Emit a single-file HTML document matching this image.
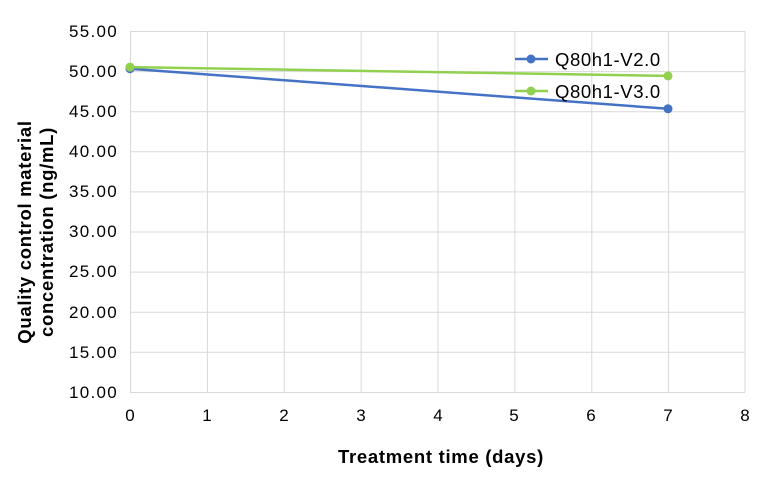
<!DOCTYPE html>
<html><head><meta charset="utf-8"><style>body{margin:0;background:#fff}</style></head><body>
<svg width="776" height="473" xmlns="http://www.w3.org/2000/svg" font-family="Liberation Sans, sans-serif">
<rect width="776" height="473" fill="#fff"/>
<g stroke="#d9d9d9" stroke-width="1">
<line x1="130" y1="31.5" x2="745" y2="31.5"/><line x1="130" y1="71.6" x2="745" y2="71.6"/>
<line x1="130" y1="111.7" x2="745" y2="111.7"/><line x1="130" y1="151.8" x2="745" y2="151.8"/>
<line x1="130" y1="191.9" x2="745" y2="191.9"/><line x1="130" y1="232" x2="745" y2="232"/>
<line x1="130" y1="272.1" x2="745" y2="272.1"/><line x1="130" y1="312.2" x2="745" y2="312.2"/>
<line x1="130" y1="352.3" x2="745" y2="352.3"/><line x1="130" y1="392.5" x2="745" y2="392.5"/>
<line x1="130.5" y1="31" x2="130.5" y2="392"/><line x1="207.4" y1="31" x2="207.4" y2="392"/>
<line x1="284.3" y1="31" x2="284.3" y2="392"/><line x1="361.1" y1="31" x2="361.1" y2="392"/>
<line x1="438" y1="31" x2="438" y2="392"/><line x1="514.9" y1="31" x2="514.9" y2="392"/>
<line x1="591.8" y1="31" x2="591.8" y2="392"/><line x1="668.6" y1="31" x2="668.6" y2="392"/>
<line x1="745" y1="31" x2="745" y2="392"/>
</g>
<g font-size="17" fill="#000" text-anchor="end" letter-spacing="1.3">
<text x="118" y="37">55.00</text><text x="118" y="77">50.00</text><text x="118" y="117">45.00</text>
<text x="118" y="157">40.00</text><text x="118" y="197">35.00</text><text x="118" y="237">30.00</text>
<text x="118" y="277">25.00</text><text x="118" y="318">20.00</text><text x="118" y="358">15.00</text>
<text x="118" y="398">10.00</text>
</g>
<g font-size="17" fill="#000" text-anchor="middle">
<text x="130" y="421">0</text><text x="207" y="421">1</text><text x="284" y="421">2</text>
<text x="361" y="421">3</text><text x="438" y="421">4</text><text x="514" y="421">5</text>
<text x="591" y="421">6</text><text x="668" y="421">7</text><text x="745" y="421">8</text>
</g>
<text x="441" y="463" font-size="18.5" font-weight="bold" text-anchor="middle" letter-spacing="0.7">Treatment time (days)</text>
<g font-size="18.5" font-weight="bold" text-anchor="middle" letter-spacing="0.7">
<text transform="translate(31,232) rotate(-90)">Quality control material</text>
<text transform="translate(53,232) rotate(-90)">concentration (ng/mL)</text>
</g>
<polyline points="130,68.7 668,108.8" stroke="#4472c4" stroke-width="2.5" fill="none"/>
<polyline points="130,67.1 668,75.9" stroke="#92d050" stroke-width="2.5" fill="none"/>
<circle cx="130" cy="68.7" r="4.5" fill="#4472c4"/><circle cx="668" cy="108.8" r="4.5" fill="#4472c4"/>
<circle cx="130" cy="67.1" r="4.5" fill="#92d050"/><circle cx="668" cy="75.9" r="4.5" fill="#92d050"/>
<line x1="515" y1="59" x2="548" y2="59" stroke="#4472c4" stroke-width="2.5"/><circle cx="531" cy="59" r="4.5" fill="#4472c4"/>
<line x1="515" y1="91" x2="548" y2="91" stroke="#92d050" stroke-width="2.5"/><circle cx="531" cy="91" r="4.5" fill="#92d050"/>
<text x="555" y="66" font-size="18.5" letter-spacing="0.6">Q80h1-V2.0</text>
<text x="555" y="98" font-size="18.5" letter-spacing="0.6">Q80h1-V3.0</text>
</svg>
</body></html>
